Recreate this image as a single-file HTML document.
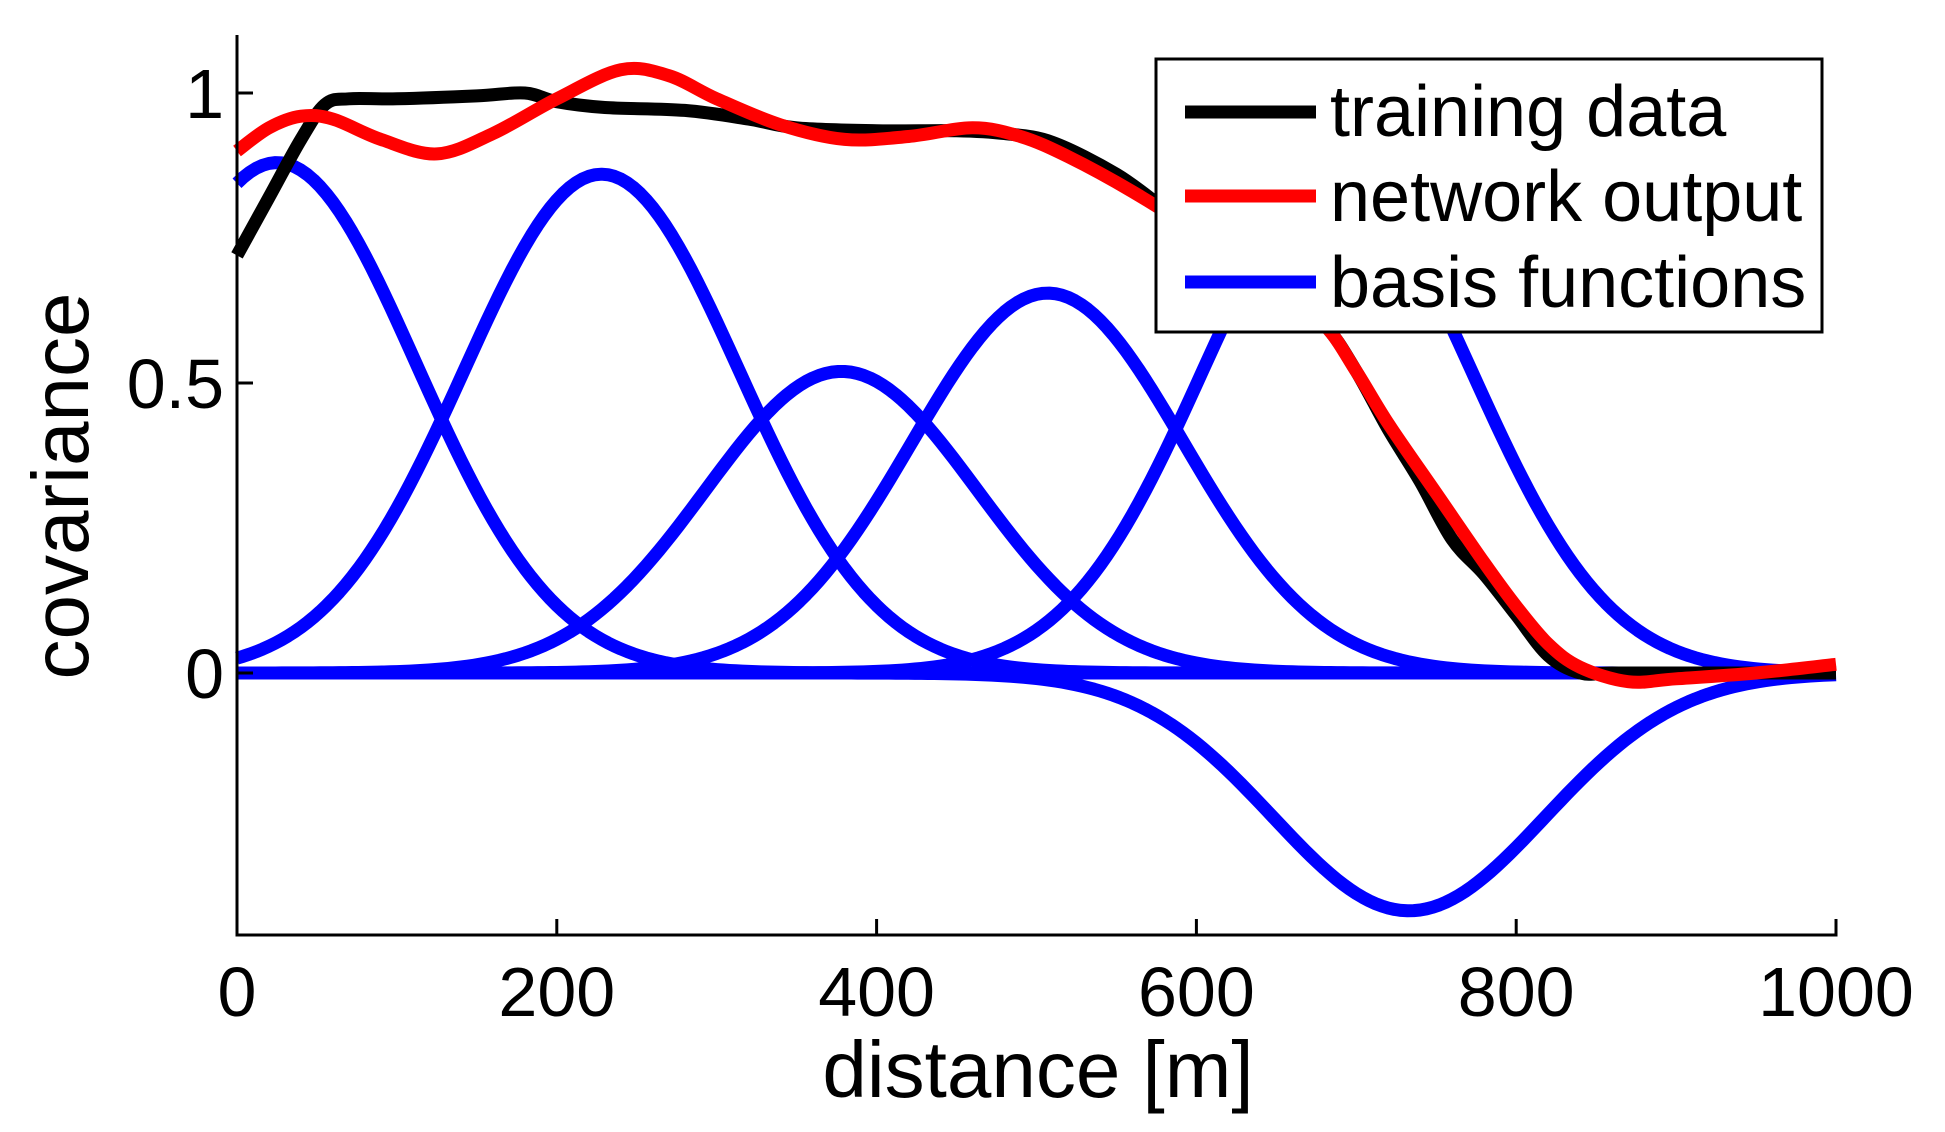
<!DOCTYPE html>
<html><head><meta charset="utf-8"><style>
html,body{margin:0;padding:0;background:#fff;}
svg{display:block;font-family:"Liberation Sans",Arial,sans-serif;}
</style></head><body>
<svg id="chart" width="1945" height="1132" viewBox="0 0 1945 1132" xmlns="http://www.w3.org/2000/svg">
<g id="series"></g>
<g id="axes"></g>
<text x="0" y="0" transform="translate(88,486) rotate(-90)" text-anchor="middle" font-size="80">covariance</text>
<text x="1038" y="1097" text-anchor="middle" font-size="80">distance [m]</text>
<g>
<rect x="1156" y="59" width="666" height="273" fill="#fff" stroke="#000" stroke-width="3"/>
<line x1="1185" y1="112" x2="1316" y2="112" stroke="#000" stroke-width="13"/>
<line x1="1185" y1="196" x2="1316" y2="196" stroke="#f00" stroke-width="13"/>
<line x1="1185" y1="282" x2="1316" y2="282" stroke="#00f" stroke-width="13"/>
<text x="1330" y="136" font-size="72">training data</text>
<text x="1330" y="221" font-size="72">network output</text>
<text x="1330" y="307" font-size="72">basis functions</text>
</g>
</svg>
<script>
const trainX = [0,20,40,55,70,100,150,180,200,230,280,320,350,400,450,480,510,550,580,600,620,650,680,700,720,740,760,780,800,820,840,860,900,1000];
const trainY = [0.72,0.82,0.92,0.98,0.99,0.99,0.995,1.0,0.985,0.975,0.97,0.955,0.94,0.935,0.935,0.93,0.915,0.86,0.8,0.76,0.72,0.66,0.6,0.52,0.42,0.33,0.23,0.17,0.1,0.03,0.0,0.0,0.0,0.0];
const netX = [0,20,40,60,90,125,160,200,240,270,300,340,380,420,460,490,520,560,600,650,680,700,720,750,780,800,820,840,870,900,950,1000];
const netY = [0.9,0.94,0.96,0.955,0.92,0.895,0.93,0.99,1.04,1.03,0.99,0.945,0.92,0.925,0.94,0.925,0.89,0.83,0.76,0.66,0.6,0.52,0.43,0.31,0.19,0.115,0.05,0.01,-0.015,-0.01,0.0,0.015];
const basisCenters = [25,228,378,507,688,733,500];
const basisAmps = [0.88,0.86,0.52,0.655,0.85,-0.41,0.0];
const basisSigmas = [87,86,85,85,85,85,85];
const xTicks = [0,200,400,600,800,1000];
const yTicks = [0,0.5,1];
const yTickLabels = ["0","0.5","1"];

const X0=237,X1=1836,Y0=673,Y1=93,TOP=35,BOT=935;
function sx(v){return X0+(X1-X0)*v/1000;}
function sy(v){return Y0-(Y0-Y1)*v;}
const NS="http://www.w3.org/2000/svg";
const series=document.getElementById('series');
const axes=document.getElementById('axes');
function smoothPath(xs,ys){
  const p=xs.map((x,i)=>[sx(x),sy(ys[i])]);
  let d=`M${p[0][0]},${p[0][1]}`;
  for(let i=0;i<p.length-1;i++){
    const a=p[Math.max(0,i-1)],b=p[i],c=p[i+1],e=p[Math.min(p.length-1,i+2)];
    const c1=[b[0]+(c[0]-a[0])/6,b[1]+(c[1]-a[1])/6];
    const c2=[c[0]-(e[0]-b[0])/6,c[1]-(e[1]-b[1])/6];
    d+=` C${c1[0]},${c1[1]} ${c2[0]},${c2[1]} ${c[0]},${c[1]}`;
  }
  return d;
}
function addPath(d,color,name){
  const el=document.createElementNS(NS,'path');
  el.setAttribute('d',d);el.setAttribute('fill','none');el.setAttribute('stroke',color);
  el.setAttribute('stroke-width','13');el.setAttribute('stroke-linejoin','round');
  
  
  series.appendChild(el);
}
basisCenters.forEach((c,k)=>{
  let d='';
  for(let x=0;x<=1000;x+=4){
    const v=basisAmps[k]*Math.exp(-((x-c)*(x-c))/(2*basisSigmas[k]*basisSigmas[k]));
    d+=(x===0?'M':'L')+sx(x)+','+sy(v)+' ';
  }
  addPath(d,'#00f','basis-function-'+(k+1));
});
addPath(smoothPath(trainX,trainY),'#000','training-data-line');
addPath(smoothPath(netX,netY),'#f00','network-output-line');

function line(x1,y1,x2,y2,name){
  const l=document.createElementNS(NS,'line');
  l.setAttribute('x1',x1);l.setAttribute('y1',y1);l.setAttribute('x2',x2);l.setAttribute('y2',y2);
  l.setAttribute('stroke','#000');l.setAttribute('stroke-width','3');
  
  
  axes.appendChild(l);
}
line(X0,TOP,X0,BOT+1.5,'y-axis-line');
line(X0-1.5,BOT,X1+1.5,BOT,'x-axis-line');
xTicks.forEach(t=>{
  line(sx(t),BOT,sx(t),BOT-16,'x-tick');
  const tx=document.createElementNS(NS,'text');
  tx.setAttribute('x',sx(t));tx.setAttribute('y',1016);tx.setAttribute('text-anchor','middle');tx.setAttribute('font-size','70');
  tx.textContent=String(t);
  
  
  axes.appendChild(tx);
});
yTicks.forEach((t,i)=>{
  line(X0,sy(t),X0+16,sy(t),'y-tick');
  const tx=document.createElementNS(NS,'text');
  tx.setAttribute('x',224);tx.setAttribute('y',sy(t)+25);tx.setAttribute('text-anchor','end');tx.setAttribute('font-size','70');
  tx.textContent=yTickLabels[i];
  
  
  axes.appendChild(tx);
});
</script>
</body></html>
